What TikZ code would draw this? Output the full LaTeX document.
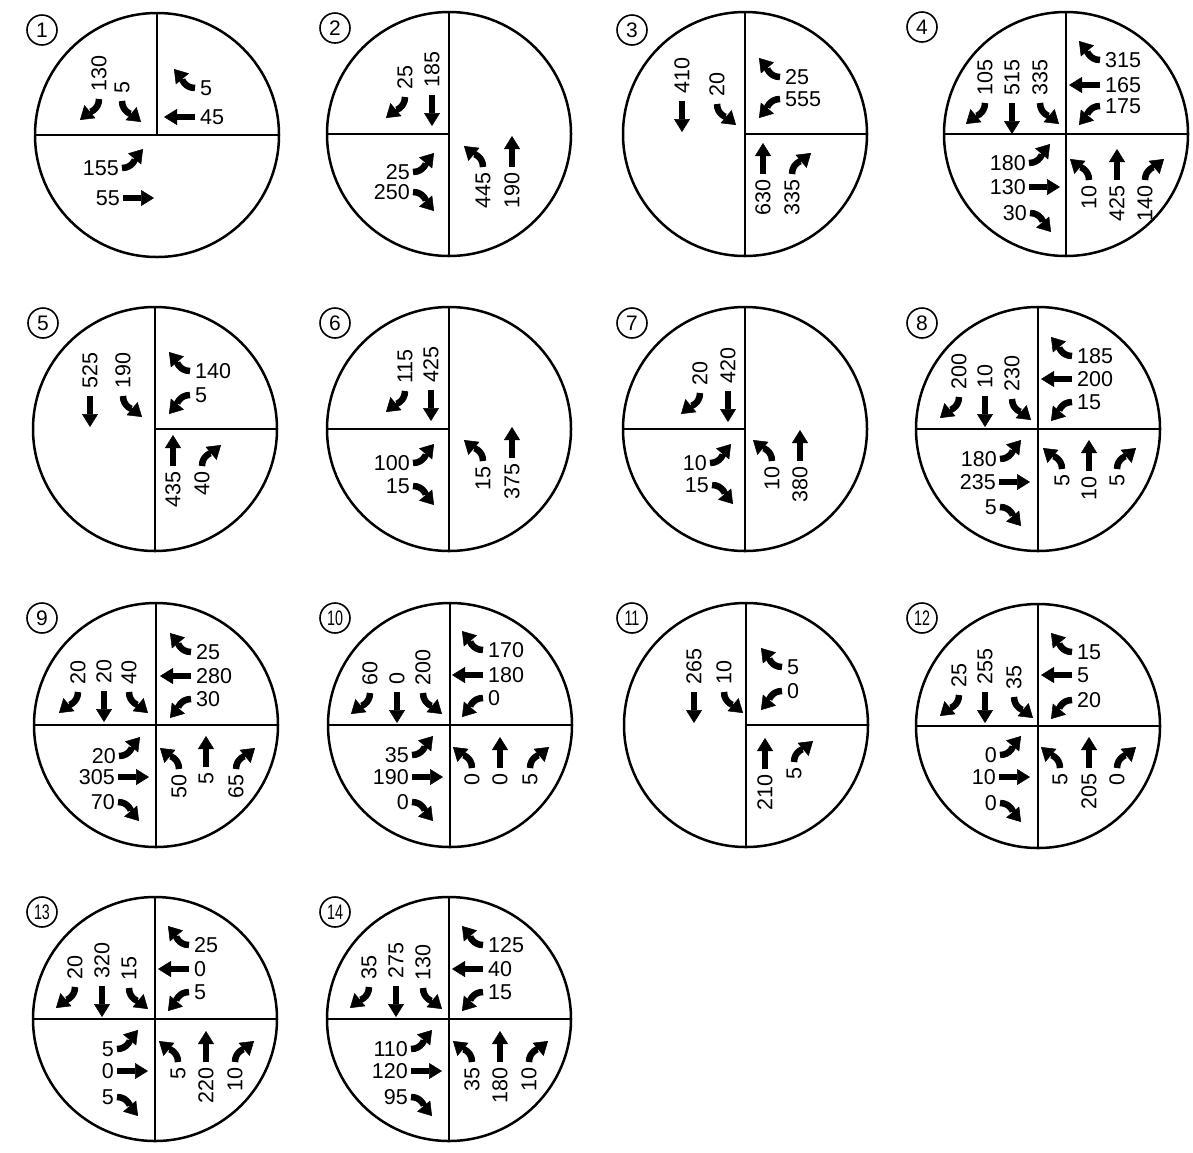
\documentclass[tikz,border=0pt]{standalone}
\usepackage{fontspec}
\setmainfont{Liberation Sans}
\usetikzlibrary{arrows.meta}
\newcounter{lbn}
\tikzset{
  mv/.style={line width=5.5pt, -{Triangle[length=13pt,width=16pt,line width=0.5pt]}},
  mvc/.style={line width=6.5pt, -{Triangle[length=13pt,width=17pt,line width=0.5pt]}},
  mvT/.pic={\draw[mv] (0,0) -- (0,31);},
  mvL/.pic={\draw[mvc] (0,0) .. controls (0,11) and (-10.6,13.9) .. (-19,21);},
  mvR/.pic={\draw[mvc] (0,0) .. controls (0,11) and (10.6,13.9) .. (19,21);},
  lbl/.style={inner sep=0pt, font=\fontsize{21.5}{24}\selectfont},
  big/.style={draw, circle, line width=2.5pt, minimum size=244pt, inner sep=0pt, outer sep=0pt},
  quad/.style={line width=2.5pt},
  numc/.style={draw, circle, line width=1.6pt, minimum size=30pt, inner sep=0pt, font=\fontsize{21}{24}\selectfont},
}
% approach macros: {type L/T/R}{x}{y}{label}
\newcommand\mvN[4]{\pic at (#2,#3) {mv#1};
  \stepcounter{lbn}\node[lbl,rotate=90,anchor=east] (t\arabic{lbn}) at (#2,#3-5) {#4};}
\newcommand\mvS[4]{\pic[rotate=180] at (#2,#3) {mv#1};
  \stepcounter{lbn}\node[lbl,rotate=90,anchor=west] (t\arabic{lbn}) at (#2,#3+7) {#4};}
\newcommand\mvW[4]{\pic[rotate=90] at (#2,#3) {mv#1};
  \stepcounter{lbn}\node[lbl,anchor=west] (t\arabic{lbn}) at (#2+5,#3) {#4};}
\newcommand\mvE[4]{\pic[rotate=-90] at (#2,#3) {mv#1};
  \stepcounter{lbn}\node[lbl,anchor=east] (t\arabic{lbn}) at (#2-3,#3) {#4};}
\newcommand\sq[1]{\scalebox{0.68}[1]{#1}}

\begin{document}
\begin{tikzpicture}[x=1pt,y=1pt]
\useasboundingbox (0,0) rectangle (1193,-1152);
\fill[white] (0,0) rectangle (1193,-1152);

% ---------- 1 ----------
\node[big] (c1) at (157,-135) {};
\draw[quad] (c1.north) -- (c1.center);
\draw[quad] (c1.west) -- (c1.east);
\node[numc] (n1) at (42,-30) {1};
\begin{scope}[shift={(c1.center)}]
\mvS{R}{-58}{36}{130}
\mvS{L}{-35}{34}{5}
\mvW{R}{38}{47}{5}
\mvW{T}{38}{18}{45}
\mvE{L}{-35}{-33}{155}
\mvE{T}{-34}{-63}{55}
\end{scope}

% ---------- 2 ----------
\node[big] (c2) at (449,-134) {};
\draw[quad] (c2.north) -- (c2.south);
\draw[quad] (c2.west) -- (c2.center);
\node[numc] (n2) at (335,-28) {2};
\begin{scope}[shift={(c2.center)}]
\mvS{R}{-44}{37}{25}
\mvS{T}{-17}{39}{185}
\mvE{L}{-36}{-38}{25}
\mvE{R}{-36}{-58}{250}
\mvN{L}{34}{-33}{445}
\mvN{T}{63}{-33}{190}
\end{scope}

% ---------- 3 ----------
\node[big] (c3) at (745,-134) {};
\draw[quad] (c3.north) -- (c3.south);
\draw[quad] (c3.center) -- (c3.east);
\node[numc] (n3) at (632,-30) {3};
\begin{scope}[shift={(c3.center)}]
\mvS{T}{-63}{33}{410}
\mvS{L}{-28}{30}{20}
\mvW{R}{35}{57}{25}
\mvW{L}{35}{35}{555}
\mvN{T}{18}{-40}{630}
\mvN{R}{47}{-40}{335}
\end{scope}

% ---------- 4 ----------
\node[big] (c4) at (1066,-134) {};
\draw[quad] (c4.north) -- (c4.south);
\draw[quad] (c4.west) -- (c4.east);
\node[numc] (n4) at (922,-27) {4};
\begin{scope}[shift={(c4.center)}]
\mvS{R}{-81}{31}{105}
\mvS{T}{-54}{31}{515}
\mvS{L}{-26}{31}{335}
\mvW{R}{34}{74}{315}
\mvW{T}{34}{49}{165}
\mvW{L}{34}{28}{175}
\mvE{L}{-37}{-29}{180}
\mvE{T}{-37}{-53}{130}
\mvE{R}{-36}{-79}{30}
\mvN{L}{23}{-46}{10}
\mvN{T}{51}{-46}{425}
\mvN{R}{79}{-46}{140}
\end{scope}

% ---------- 5 ----------
\node[big] (c5) at (155,-429) {};
\draw[quad] (c5.north) -- (c5.south);
\draw[quad] (c5.center) -- (c5.east);
\node[numc] (n5) at (43,-323) {5};
\begin{scope}[shift={(c5.center)}]
\mvS{T}{-65}{33}{525}
\mvS{L}{-32}{33}{190}
\mvW{R}{35}{58}{140}
\mvW{L}{35}{34}{5}
\mvN{T}{18}{-37}{435}
\mvN{R}{47}{-37}{40}
\end{scope}

% ---------- 6 ----------
\node[big] (c6) at (449,-429) {};
\draw[quad] (c6.north) -- (c6.south);
\draw[quad] (c6.west) -- (c6.center);
\node[numc] (n6) at (335,-323) {6};
\begin{scope}[shift={(c6.center)}]
\mvS{R}{-44}{38}{115}
\mvS{T}{-18}{39}{425}
\mvE{L}{-36}{-34}{100}
\mvE{R}{-36}{-57}{15}
\mvN{L}{34}{-32}{15}
\mvN{T}{63}{-29}{375}
\end{scope}

% ---------- 7 ----------
\node[big] (c7) at (745,-429) {};
\draw[quad] (c7.north) -- (c7.south);
\draw[quad] (c7.west) -- (c7.center);
\node[numc] (n7) at (632,-323) {7};
\begin{scope}[shift={(c7.center)}]
\mvS{R}{-45}{36}{20}
\mvS{T}{-17}{38}{420}
\mvE{L}{-35}{-34}{10}
\mvE{R}{-33}{-56}{15}
\mvN{L}{27}{-32}{10}
\mvN{T}{55}{-32}{380}
\end{scope}

% ---------- 8 ----------
\node[big] (c8) at (1038,-429) {};
\draw[quad] (c8.north) -- (c8.south);
\draw[quad] (c8.west) -- (c8.east);
\node[numc] (n8) at (922,-323) {8};
\begin{scope}[shift={(c8.center)}]
\mvS{R}{-79}{32}{200}
\mvS{T}{-53}{33}{10}
\mvS{L}{-26}{30}{230}
\mvW{R}{34}{73}{185}
\mvW{T}{34}{50}{200}
\mvW{L}{34}{27}{15}
\mvE{L}{-38}{-30}{180}
\mvE{T}{-39}{-53}{235}
\mvE{R}{-38}{-78}{5}
\mvN{L}{24}{-40}{5}
\mvN{T}{51}{-42}{10}
\mvN{R}{79}{-40}{5}
\end{scope}

% ---------- 9 ----------
\node[big] (c9) at (156,-725) {};
\draw[quad] (c9.north) -- (c9.south);
\draw[quad] (c9.west) -- (c9.east);
\node[numc] (n9) at (42,-618) {9};
\begin{scope}[shift={(c9.center)}]
\mvS{R}{-78}{33}{20}
\mvS{T}{-52}{34}{20}
\mvS{L}{-27}{33}{40}
\mvW{R}{35}{73}{25}
\mvW{T}{35}{49}{280}
\mvW{L}{35}{26}{30}
\mvE{L}{-37}{-31}{20}
\mvE{T}{-38}{-52}{305}
\mvE{R}{-38}{-77}{70}
\mvN{L}{23}{-44}{50}
\mvN{T}{50}{-42}{5}
\mvN{R}{80}{-44}{65}
\end{scope}

% ---------- 10 ----------
\node[big] (c10) at (450,-725) {};
\draw[quad] (c10.north) -- (c10.south);
\draw[quad] (c10.west) -- (c10.east);
\node[numc] (n10) at (335,-618) {\sq{10}};
\begin{scope}[shift={(c10.center)}]
\mvS{R}{-80}{32}{60}
\mvS{T}{-53}{33}{0}
\mvS{L}{-27}{32}{200}
\mvW{R}{33}{75}{170}
\mvW{T}{33}{50}{180}
\mvW{L}{33}{27}{0}
\mvE{L}{-38}{-30}{35}
\mvE{T}{-38}{-52}{190}
\mvE{R}{-38}{-77}{0}
\mvN{L}{22}{-43}{0}
\mvN{T}{50}{-43}{0}
\mvN{R}{80}{-43}{5}
\end{scope}

% ---------- 11 ----------
\node[big] (c11) at (746,-725) {};
\draw[quad] (c11.north) -- (c11.south);
\draw[quad] (c11.center) -- (c11.east);
\node[numc] (n11) at (632,-618) {\sq{11}};
\begin{scope}[shift={(c11.center)}]
\mvS{T}{-52}{33}{265}
\mvS{L}{-22}{33}{10}
\mvW{R}{36}{58}{5}
\mvW{L}{36}{34}{0}
\mvN{T}{19}{-44}{210}
\mvN{R}{48}{-37}{5}
\end{scope}

% ---------- 12 ----------
\node[big] (c12) at (1038,-726) {};
\draw[quad] (c12.north) -- (c12.south);
\draw[quad] (c12.west) -- (c12.east);
\node[numc] (n12) at (922,-618) {\sq{12}};
\begin{scope}[shift={(c12.center)}]
\mvS{R}{-79}{31}{25}
\mvS{T}{-53}{34}{255}
\mvS{L}{-24}{29}{35}
\mvW{R}{34}{74}{15}
\mvW{T}{34}{51}{5}
\mvW{L}{34}{26}{20}
\mvE{L}{-38}{-29}{0}
\mvE{T}{-39}{-51}{10}
\mvE{R}{-38}{-77}{0}
\mvN{L}{22}{-42}{5}
\mvN{T}{51}{-42}{205}
\mvN{R}{79}{-42}{0}
\end{scope}

% ---------- 13 ----------
\node[big] (c13) at (155,-1019) {};
\draw[quad] (c13.north) -- (c13.south);
\draw[quad] (c13.west) -- (c13.east);
\node[numc] (n13) at (42,-912) {\sq{13}};
\begin{scope}[shift={(c13.center)}]
\mvS{R}{-80}{32}{20}
\mvS{T}{-53}{33}{320}
\mvS{L}{-26}{31}{15}
\mvW{R}{34}{74}{25}
\mvW{T}{34}{50}{0}
\mvW{L}{34}{27}{5}
\mvE{L}{-38}{-30}{5}
\mvE{T}{-38}{-52}{0}
\mvE{R}{-38}{-78}{5}
\mvN{L}{23}{-43}{5}
\mvN{T}{51}{-43}{220}
\mvN{R}{80}{-43}{10}
\end{scope}

% ---------- 14 ----------
\node[big] (c14) at (449,-1019) {};
\draw[quad] (c14.north) -- (c14.south);
\draw[quad] (c14.west) -- (c14.east);
\node[numc] (n14) at (335,-912) {\sq{14}};
\begin{scope}[shift={(c14.center)}]
\mvS{R}{-80}{32}{35}
\mvS{T}{-53}{33}{275}
\mvS{L}{-26}{31}{130}
\mvW{R}{34}{74}{125}
\mvW{T}{34}{50}{40}
\mvW{L}{34}{27}{15}
\mvE{L}{-38}{-30}{110}
\mvE{T}{-38}{-52}{120}
\mvE{R}{-38}{-78}{95}
\mvN{L}{23}{-43}{35}
\mvN{T}{51}{-43}{180}
\mvN{R}{80}{-43}{10}
\end{scope}
\end{tikzpicture}
\end{document}
